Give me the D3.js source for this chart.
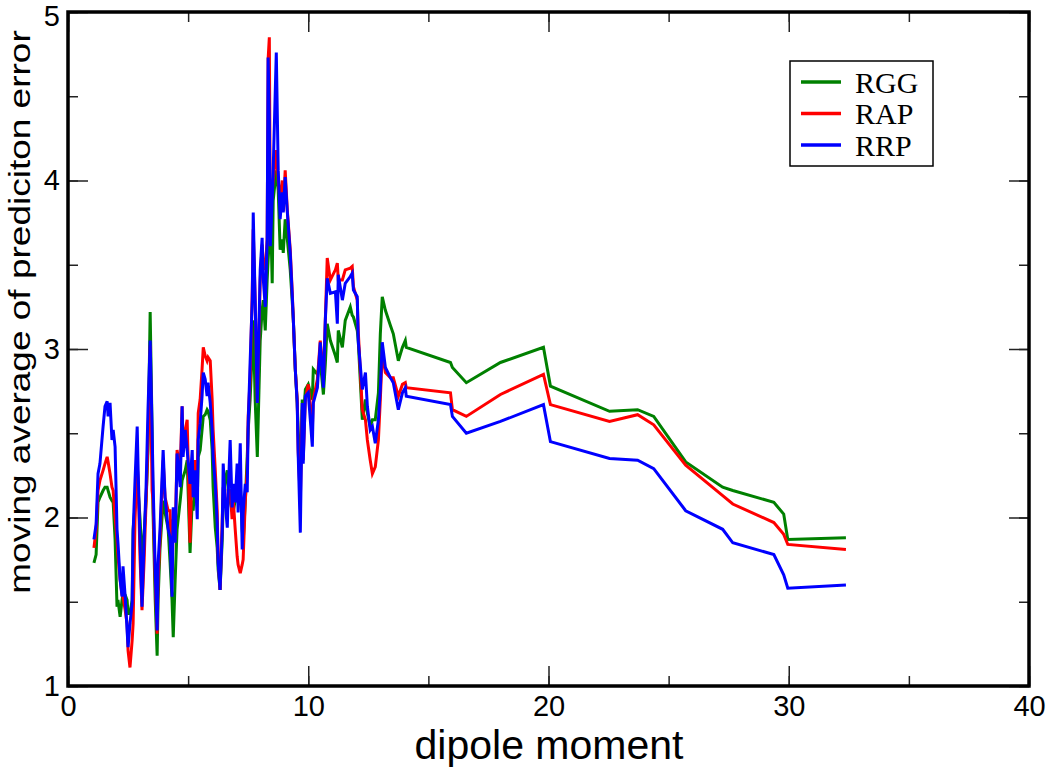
<!DOCTYPE html>
<html>
<head>
<meta charset="utf-8">
<script src="https://cdn.jsdelivr.net/npm/d3@7"></script>
<style>
  body { margin: 0; background: #fff; }
  svg text { font-family: "Liberation Sans", Arial, sans-serif; fill: #000; }
</style>
</head>
<body>
<svg id="chart" width="1050" height="769"></svg>
<script>
// dipole moment (shared x for all three series)
const dipole = [1.08,1.17,1.25,1.33,1.46,1.54,1.63,1.67,1.75,1.83,
  1.88,1.96,2.04,2.08,2.17,2.25,2.29,2.38,2.46,2.50,
  2.58,2.67,2.71,2.79,2.88,2.92,3.00,3.08,3.17,3.25,
  3.33,3.42,3.50,3.54,3.63,3.71,3.75,3.83,3.96,4.04,
  4.17,4.25,4.33,4.38,4.46,4.54,4.67,4.75,4.79,4.88,
  4.96,5.08,5.17,5.21,5.29,5.38,5.42,5.50,5.58,5.63,
  5.71,5.79,5.83,5.92,6.00,6.04,6.13,6.21,6.25,6.33,
  6.42,6.46,6.54,6.63,6.67,6.75,6.83,6.88,6.96,7.04,
  7.08,7.17,7.25,7.29,7.38,7.46,7.50,7.58,7.67,7.71,
  7.79,7.88,8.00,8.08,8.13,8.21,8.29,8.33,8.38,8.42,
  8.50,8.54,8.67,8.75,8.83,8.92,8.96,9.04,9.13,9.25,
  9.33,9.38,9.46,9.54,9.58,9.67,9.75,9.79,9.88,10.00,
  10.17,10.21,10.38,10.50,10.63,10.71,10.79,10.92,11.13,11.21,
  11.25,11.42,11.54,11.75,11.83,11.88,12.04,12.08,12.25,12.38,
  12.46,12.58,12.67,12.79,12.92,13.00,13.08,13.21,13.42,13.54,
  13.75,13.92,14.04,14.08,15.92,16.00,16.58,18.00,19.79,20.08,
  22.54,23.71,24.38,25.71,27.25,27.67,29.38,29.79,29.96,32.38];

const rgg = [1.73,1.78,2.09,2.12,2.16,2.18,2.18,2.16,2.12,2.10,
  2.09,1.87,1.47,1.51,1.41,1.51,1.55,1.54,1.51,1.43,
  1.43,1.51,1.93,2.07,2.22,2.16,1.99,1.75,1.91,2.10,
  2.40,3.22,2.52,2.03,1.51,1.18,1.51,1.82,2.10,2.03,
  1.93,1.73,1.51,1.29,1.63,1.93,2.10,2.22,2.24,2.28,
  2.34,1.79,2.10,2.04,2.22,2.10,2.36,2.40,2.52,2.60,
  2.61,2.64,2.63,2.58,2.40,2.18,1.94,1.82,1.69,1.57,
  1.87,2.10,2.22,2.28,2.16,2.10,2.04,2.04,2.10,2.16,
  2.19,2.20,1.93,1.85,2.10,2.36,2.52,2.70,2.99,3.17,
  2.70,2.36,3.05,3.23,3.29,3.11,3.41,3.53,3.65,3.88,
  3.39,3.88,4.06,3.94,3.59,3.65,3.57,3.77,3.65,3.47,
  3.29,3.17,2.88,2.68,2.52,2.22,2.70,2.58,2.76,2.79,
  2.70,2.88,2.85,2.93,2.73,2.91,3.15,3.05,2.96,2.92,
  3.11,3.01,3.17,3.25,3.20,3.19,3.11,3.05,2.58,2.70,
  2.62,2.54,2.58,2.58,2.74,3.09,3.31,3.23,3.14,3.09,
  2.93,3.01,3.05,3.01,2.92,2.89,2.80,2.92,3.01,2.78,
  2.63,2.64,2.60,2.33,2.18,2.16,2.09,2.02,1.87,1.88];

const rap = [1.82,1.93,2.16,2.22,2.28,2.32,2.36,2.33,2.26,2.18,
  2.16,2.00,1.87,1.77,1.63,1.54,1.53,1.45,1.37,1.21,
  1.11,1.27,1.37,1.99,2.32,2.22,1.75,1.45,1.75,2.10,
  2.46,3.02,2.16,2.10,1.63,1.31,1.63,1.87,2.34,2.12,
  2.04,2.04,1.63,1.99,1.87,2.40,2.28,2.66,2.40,2.52,
  2.58,1.85,2.34,2.16,2.34,2.22,2.62,2.70,2.88,3.01,
  2.96,2.93,2.95,2.93,2.70,2.52,2.28,2.04,1.75,1.57,
  1.99,2.18,2.10,2.04,2.16,2.16,1.99,2.10,1.93,1.77,
  1.72,1.67,1.72,1.75,2.10,2.28,2.60,2.82,3.35,3.71,
  3.29,2.68,3.41,3.62,3.50,3.47,3.65,4.72,4.85,3.77,
  3.94,4.00,4.18,4.00,3.88,4.00,3.82,4.06,3.82,3.59,
  3.35,3.17,2.88,2.70,2.40,2.10,2.64,2.34,2.70,2.79,
  2.52,2.70,2.82,3.05,2.82,3.17,3.54,3.41,3.47,3.51,
  3.41,3.41,3.47,3.48,3.49,3.37,3.29,3.11,2.64,2.58,
  2.46,2.34,2.26,2.30,2.46,2.70,2.98,2.86,2.83,2.83,
  2.72,2.79,2.80,2.77,2.74,2.64,2.60,2.73,2.85,2.67,
  2.57,2.61,2.55,2.31,2.13,2.08,1.97,1.90,1.84,1.81];

const rrp = [1.87,1.96,2.26,2.32,2.54,2.66,2.69,2.60,2.68,2.46,
  2.52,2.42,1.93,1.85,1.63,1.53,1.71,1.53,1.33,1.23,
  1.37,1.49,1.91,2.22,2.54,2.28,1.85,1.47,1.88,2.18,
  2.64,3.05,2.52,2.22,1.69,1.33,1.73,1.93,2.40,2.12,
  1.93,1.88,1.53,2.06,1.85,2.38,2.18,2.66,2.36,2.52,
  2.40,2.20,2.40,2.12,2.28,1.99,2.46,2.56,2.72,2.86,
  2.82,2.72,2.80,2.68,2.52,2.36,2.20,1.97,1.73,1.57,
  1.93,2.32,2.09,1.94,2.15,2.46,2.06,2.20,2.09,2.32,
  2.03,2.44,1.81,2.03,2.20,2.15,2.56,2.92,3.29,3.81,
  3.29,2.68,3.47,3.66,3.41,3.25,3.66,4.73,4.36,3.61,
  3.88,4.06,4.76,4.06,3.77,3.93,3.81,4.02,3.81,3.57,
  3.33,3.17,2.88,2.68,2.38,1.91,2.68,2.32,2.72,2.74,
  2.42,2.68,2.77,3.04,2.77,3.17,3.42,3.33,3.34,3.15,
  3.44,3.29,3.39,3.43,3.45,3.35,3.31,3.05,2.76,2.86,
  2.66,2.52,2.54,2.44,2.58,2.76,3.04,2.89,2.83,2.80,
  2.64,2.74,2.77,2.72,2.67,2.60,2.50,2.57,2.67,2.45,
  2.35,2.34,2.29,2.04,1.93,1.85,1.78,1.66,1.58,1.60];

const seriesNames = ["RGG", "RAP", "RRP"];
const seriesColors = ["#008000", "#ff0000", "#0000ff"];
const xTicks = [0, 10, 20, 30, 40];
const yTicks = [1, 2, 3, 4, 5];

const W = 1050, H = 769;
const margin = {top: 12, right: 21, bottom: 83, left: 68};

const svg = d3.select("#chart");

const x = d3.scaleLinear().domain([0, 40]).range([margin.left, W - margin.right]);
const y = d3.scaleLinear().domain([1, 5]).range([H - margin.bottom, margin.top]);

const allSeries = [rgg, rap, rrp].map((vals, i) => ({
  name: seriesNames[i],
  color: seriesColors[i],
  points: dipole.map((d, j) => [d, vals[j]])
}));

// lines
const line = d3.line().x(d => x(d[0])).y(d => y(d[1]));

svg.append("g")
  .selectAll("path")
  .data(allSeries)
  .enter()
  .append("path")
  .attr("d", d => line(d.points))
  .attr("fill", "none")
  .attr("stroke", d => d.color)
  .attr("stroke-width", 3);

// axes, ticks pointing inward on all sides
const minorX = d3.range(0, 40.01, 5);
const minorY = d3.range(1, 5.01, 0.5);

function tickGroup(axis, transform) {
  const g = svg.append("g").attr("transform", transform).call(axis);
  g.select(".domain").remove();
  g.selectAll(".tick line").attr("stroke", "#222").attr("stroke-width", 1.5);
  return g;
}

const yb = H - margin.bottom, xr = W - margin.right;

tickGroup(d3.axisBottom(x).tickValues(minorX).tickSize(-10).tickFormat(""), `translate(0,${yb})`);
tickGroup(d3.axisTop(x).tickValues(minorX).tickSize(-10).tickFormat(""), `translate(0,${margin.top})`);
tickGroup(d3.axisLeft(y).tickValues(minorY).tickSize(-10).tickFormat(""), `translate(${margin.left},0)`);
tickGroup(d3.axisRight(y).tickValues(minorY).tickSize(-10).tickFormat(""), `translate(${xr},0)`);

const xAxis = tickGroup(d3.axisBottom(x).tickValues(xTicks).tickSize(-20).tickFormat(d3.format("d")), `translate(0,${yb})`);
tickGroup(d3.axisTop(x).tickValues(xTicks).tickSize(-20).tickFormat(""), `translate(0,${margin.top})`);
const yAxis = tickGroup(d3.axisLeft(y).tickValues(yTicks).tickSize(-20).tickFormat(d3.format("d")), `translate(${margin.left},0)`);
tickGroup(d3.axisRight(y).tickValues(yTicks).tickSize(-20).tickFormat(""), `translate(${xr},0)`);

xAxis.selectAll("text").attr("font-size", 29).attr("font-family", "Liberation Sans, Arial, sans-serif").attr("dy", "0.71em").attr("y", 9);
yAxis.selectAll("text").attr("font-size", 29).attr("font-family", "Liberation Sans, Arial, sans-serif").attr("x", -8)
  .attr("dy", d => d === 5 ? "0.45em" : "0.32em");

// frame
svg.append("rect")
  .attr("x", margin.left)
  .attr("y", margin.top)
  .attr("width", xr - margin.left)
  .attr("height", yb - margin.top)
  .attr("fill", "none")
  .attr("stroke", "#000")
  .attr("stroke-width", 3.5);

// axis titles
svg.append("text")
  .attr("x", 549)
  .attr("y", 759)
  .attr("text-anchor", "middle")
  .attr("font-size", 41)
  .text("dipole moment");

svg.append("text")
  .attr("transform", "translate(30,312) rotate(-90) scale(1,0.82)")
  .attr("text-anchor", "middle")
  .attr("font-size", 37)
  .text("moving average of prediciton error");

// legend
const legend = svg.append("g").attr("transform", "translate(790,61)");
legend.append("rect")
  .attr("width", 143)
  .attr("height", 105)
  .attr("fill", "#fff")
  .attr("stroke", "#000")
  .attr("stroke-width", 1.5);

const items = legend.selectAll(".item")
  .data(allSeries)
  .enter()
  .append("g")
  .attr("class", "item")
  .attr("transform", (d, i) => `translate(0,${21 + i * 31.5})`);

items.append("line")
  .attr("x1", 11).attr("x2", 51)
  .attr("stroke", d => d.color)
  .attr("stroke-width", 3.5);

items.append("text")
  .attr("x", 65)
  .attr("dy", "0.35em")
  .style("font-family", "'Liberation Serif', 'Times New Roman', serif")
  .attr("font-size", 30)
  .text(d => d.name);
</script>
</body>
</html>
